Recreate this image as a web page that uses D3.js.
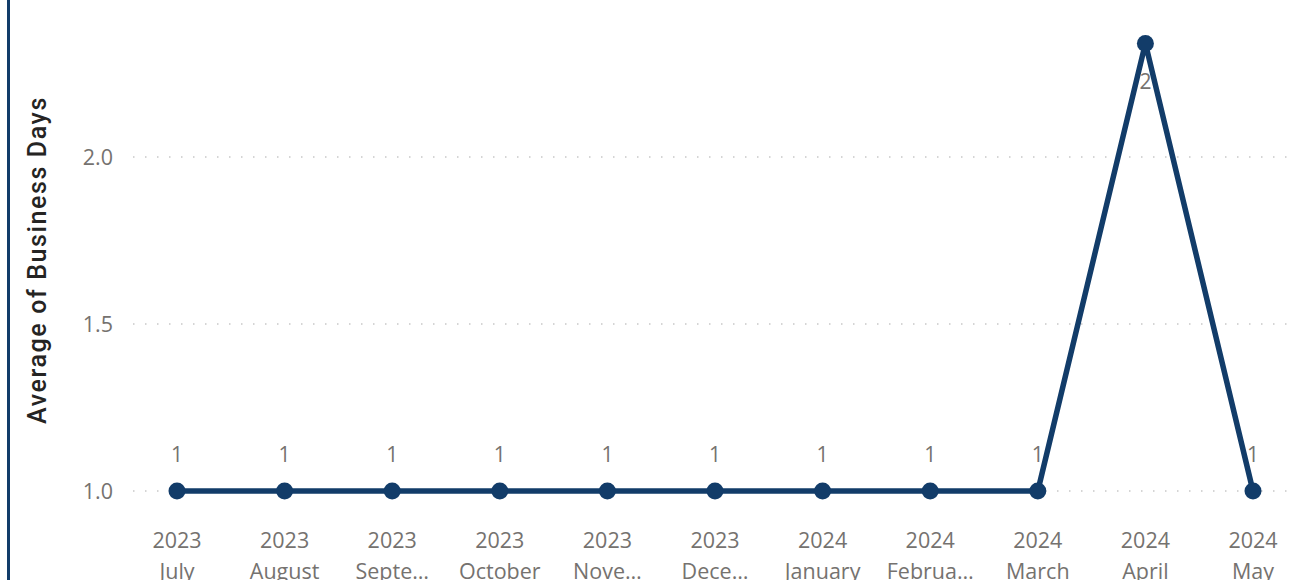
<!DOCTYPE html>
<html>
  <head>
    <meta charset="utf-8">
    <title>Average of Business Days</title>
    <style>
      body { margin: 0; background: #fff; }
      svg { display: block; }
      .tick-label { font-family: "Open Sans", "Noto Sans", sans-serif; font-size: 21.5px; fill: #75726f; }
      .data-label { font-family: "Open Sans", "Noto Sans", sans-serif; font-size: 21px; fill: #75726f; }
      .axis-title { font-family: "Roboto", "DejaVu Sans", sans-serif; font-size: 25px; font-weight: 500; letter-spacing: 1.6px; fill: #252423; }
    </style>
    <script src="https://cdn.jsdelivr.net/npm/d3@7"></script>
  </head>
  <body>
    <svg id="chart" width="1289" height="580"></svg>
    <script>
      var years = ["2023", "2023", "2023", "2023", "2023", "2023", "2024", "2024", "2024", "2024", "2024"];
      var months = ["July", "August", "Septe…", "October", "Nove…", "Dece…", "January", "Februa…", "March", "April", "May"];
      var values = [1, 1, 1, 1, 1, 1, 1, 1, 1, 2.34, 1];
      var yTicks = [1.0, 1.5, 2.0];

      var svg = d3.select("#chart");

      // left border bar
      svg.append("rect")
        .attr("x", 7).attr("y", 0)
        .attr("width", 3).attr("height", 580)
        .attr("fill", "#123c69");

      var x = d3.scalePoint()
        .domain(d3.range(months.length))
        .range([177, 1253]);

      var y = d3.scaleLinear()
        .domain([1, 2])
        .range([491, 157]);

      // gridlines
      svg.append("g").selectAll("line")
        .data(yTicks)
        .enter().append("line")
        .attr("x1", 133).attr("x2", 1289)
        .attr("y1", function(d) { return y(d); })
        .attr("y2", function(d) { return y(d); })
        .attr("stroke", "#c8c8c8")
        .attr("stroke-width", 1.5)
        .attr("stroke-dasharray", "1.5,10.5");

      // y tick labels
      svg.append("g").selectAll("text")
        .data(yTicks)
        .enter().append("text")
        .attr("class", "tick-label")
        .attr("x", 113)
        .attr("y", function(d) { return y(d); })
        .attr("dy", "0.35em")
        .attr("text-anchor", "end")
        .text(function(d) { return d3.format(".1f")(d); });

      // y axis title
      svg.append("text")
        .attr("class", "axis-title")
        .attr("transform", "translate(46,260) rotate(-90)")
        .attr("text-anchor", "middle")
        .text("Average of Business Days");

      // x labels
      var xl = svg.append("g").selectAll("g")
        .data(months)
        .enter().append("g")
        .attr("transform", function(d, i) { return "translate(" + x(i) + ",0)"; });
      xl.append("text")
        .attr("class", "tick-label")
        .attr("y", 548)
        .attr("text-anchor", "middle")
        .text(function(d, i) { return years[i]; });
      xl.append("text")
        .attr("class", "tick-label")
        .attr("y", 579)
        .attr("text-anchor", "middle")
        .text(function(d) { return d; });

      // line
      var line = d3.line()
        .x(function(d, i) { return x(i); })
        .y(function(d) { return y(d); });

      svg.append("path")
        .datum(values)
        .attr("d", line)
        .attr("fill", "none")
        .attr("stroke", "#123c69")
        .attr("stroke-width", 5.5)
        .attr("stroke-linejoin", "round");

      svg.append("g").selectAll("circle")
        .data(values)
        .enter().append("circle")
        .attr("cx", function(d, i) { return x(i); })
        .attr("cy", function(d) { return y(d); })
        .attr("r", 8.5)
        .attr("fill", "#123c69");

      // data labels
      svg.append("g").selectAll("text")
        .data(values)
        .enter().append("text")
        .attr("class", "data-label")
        .attr("x", function(d, i) { return x(i); })
        .attr("y", function(d) { return d > 2 ? y(d) + 46 : y(d) - 29; })
        .attr("text-anchor", "middle")
        .text(function(d) { return d3.format(".0f")(d); });
    </script>
  </body>
</html>
